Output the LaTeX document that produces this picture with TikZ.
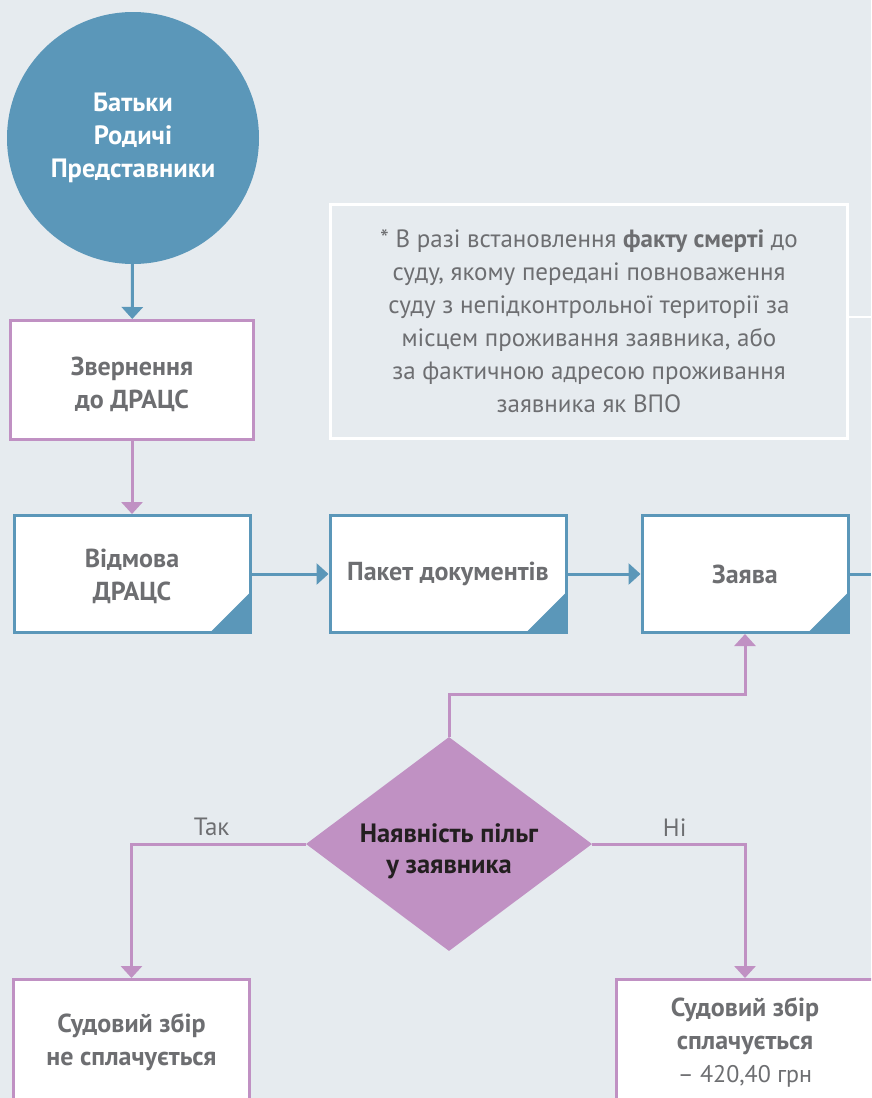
\documentclass[tikz,border=0pt]{standalone}
\usepackage{fontspec}
\setmainfont{PT Sans}
\usetikzlibrary{arrows.meta,positioning,shapes.geometric}

\definecolor{pagebg}{HTML}{E6EBEF}
\definecolor{flowblue}{HTML}{5B97B9}
\definecolor{flowpurple}{HTML}{C091C3}
\definecolor{textgrey}{HTML}{6D6E71}
\definecolor{textdark}{HTML}{231F20}

\tikzset{
  boxfont/.style={font=\bfseries\fontsize{26}{33}\selectfont},
  person/.style={circle, fill=flowblue, text=white, minimum size=252pt, inner sep=0pt, align=center,
    font=\bfseries\fontsize{26.5}{33}\selectfont},
  request/.style={rectangle, draw=flowpurple, line width=3pt, fill=white, text=textgrey, inner sep=0pt, align=center, boxfont},
  document/.style={rectangle, draw=flowblue, line width=3pt, fill=white, text=textgrey, inner sep=0pt,
    minimum height=117pt, align=center, boxfont,
    path picture={\fill[flowblue] (path picture bounding box.south east) -- ++(-40pt,0pt) -- ++(40pt,40pt) -- cycle;}},
  decision/.style={diamond, fill=flowpurple, text=textdark, minimum width=286pt, minimum height=214pt,
    aspect=1.34, inner sep=0pt, align=center, font=\bfseries\fontsize{26.5}{31}\selectfont},
  remark/.style={rectangle, draw=white, line width=2.5pt, text=textgrey, minimum width=517pt, minimum height=234pt,
    align=center, font=\fontsize{25}{33}\selectfont},
  answer/.style={text=textgrey, font=\fontsize{25}{26}\selectfont},
  blueflow/.style={draw=flowblue, line width=3pt, -{Triangle[width=21pt,length=12pt]}},
  purpleflow/.style={draw=flowpurple, line width=3pt, -{Triangle[width=21pt,length=12pt]}},
}

\begin{document}
\begin{tikzpicture}[x=1pt,y=-1pt]
  \clip (0,0) rectangle (871,1098);
  \fill[pagebg] (0,0) rectangle (871,1098);

  \node[person]   (parents)  at (133,138)               {Батьки\\Родичі\\Представники};
  \node[request, minimum width=243pt, minimum height=119pt]
                  (visit)    at (132,380)               {\rule{0pt}{27pt}Звернення\\до ДРАЦС};
  \node[document, minimum width=236pt] (refusal) [below=73pt of visit] {\rule{0pt}{24pt}Відмова\\ДРАЦС};
  \node[document, minimum width=236pt] (package) [right=77pt of refusal] {Пакет документів};
  \node[document, minimum width=206pt] (claim)   [right=73pt of package] {Заява};
  \node[remark]   (footnote) at (589,321.5)             {* В разі встановлення \textbf{факту смерті} до\\суду, якому передані повноваження\\суду з непідконтрольної території за\\місцем проживання заявника, або\\за фактичною адресою проживання\\заявника як ВПО};
  \node[decision] (benefit)  at (449,844)               {\rule{0pt}{34pt}Наявність пільг\\у заявника};
  \node[request, minimum width=236pt, minimum height=125pt]
                  (nofee)    at (131.5,1042)            {Судовий збір\\не сплачується};
  \node[request, minimum width=257pt, minimum height=125pt]
                  (fee)      at (745,1042)              {Судовий збір\\сплачується\\{\mdseries\fontsize{24}{33}\selectfont –~420,40 грн}};

  \coordinate (claimout) at (871,574);
  \coordinate (noteout)  at (871,317);

  \draw[blueflow] (parents) -- (visit);
  \draw[purpleflow] (visit) -- (refusal);
  \draw[blueflow] (refusal) -- (package);
  \draw[blueflow] (package) -- (claim);
  \draw[draw=flowblue, line width=3pt] (claim.east) -- (claimout);
  \draw[draw=white, line width=2.5pt] (noteout -| footnote.east) -- (noteout);
  \draw[purpleflow] (benefit.north) -- ++(0,-42) -| (claim.south);
  \draw[purpleflow] (benefit.west) -| node[answer, pos=0.27, above=3pt] {Так} (nofee.north);
  \draw[purpleflow] (benefit.east) -| node[answer, pos=0.27, above=3pt] {Ні} (fee.north);
\end{tikzpicture}
\end{document}
